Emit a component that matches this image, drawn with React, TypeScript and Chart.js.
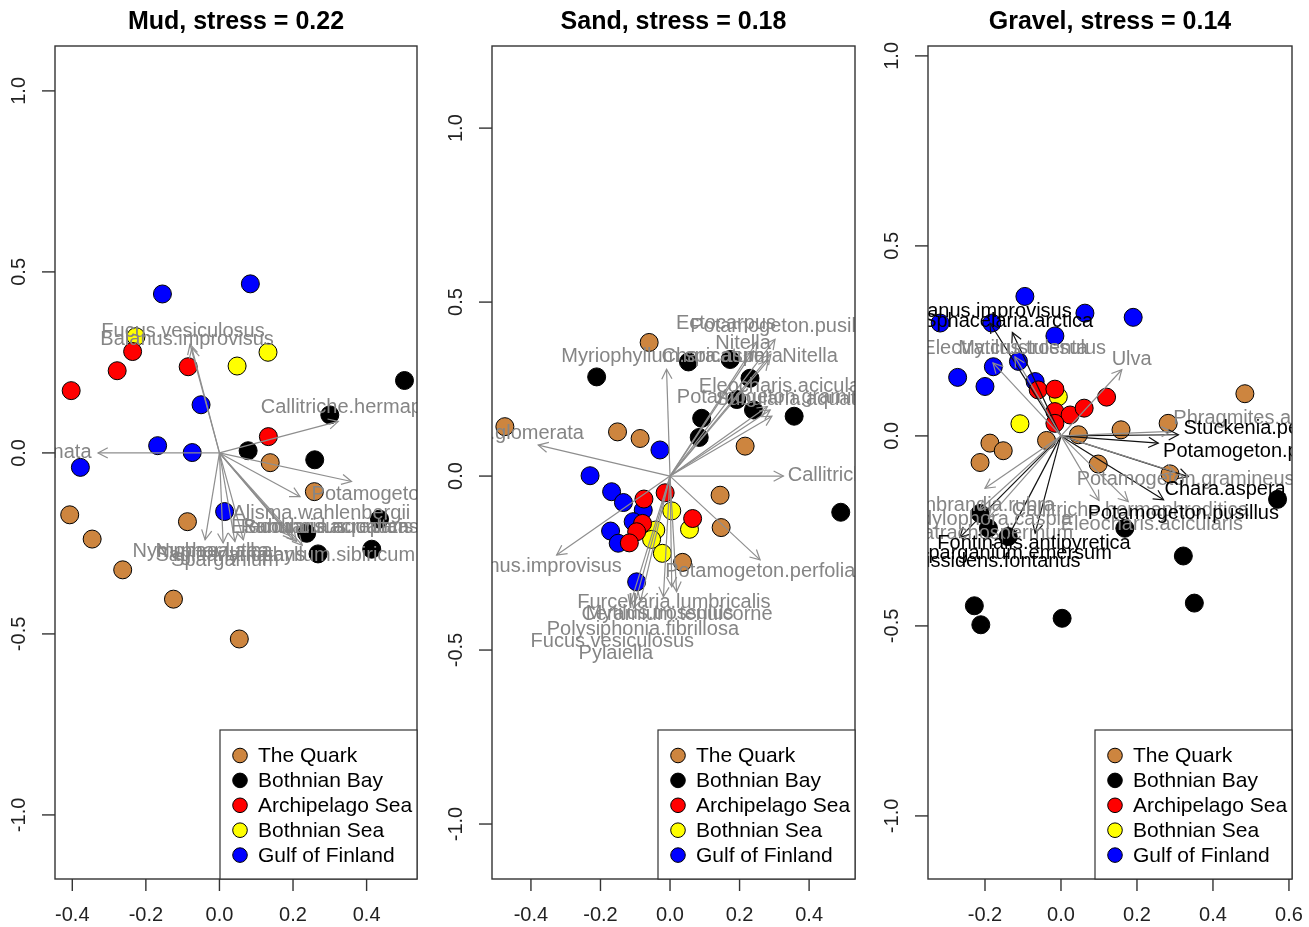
import React, { useEffect, useRef } from "react";
import { Chart, registerables } from "chart.js";

Chart.register(...registerables);

const FONT = '"Liberation Sans", Arial, Helvetica, sans-serif';

type Pt = [number, number];
type Arrow = [string, number, number, number, number]; // name, tipX, tipY, labelX, labelY

const regionNames = ["The Quark", "Bothnian Bay", "Archipelago Sea", "Bothnian Sea", "Gulf of Finland"];
const regionFills = ["#CD853F", "#000000", "#FF0000", "#FFFF00", "#0000FF"];

const xTicksMud = [-0.4, -0.2, 0, 0.2, 0.4];
const xTicksSand = [-0.4, -0.2, 0, 0.2, 0.4];
const xTicksGravel = [-0.2, 0, 0.2, 0.4, 0.6];
const yTicks = [-1, -0.5, 0, 0.5, 1];

// ---------- Mud ----------
const mudQuark: Pt[] = [[0.138, -0.027], [0.258, -0.107], [-0.407, -0.171], [-0.087, -0.19], [-0.346, -0.238], [-0.263, -0.323], [-0.125, -0.404], [0.054, -0.514]];
const mudBay: Pt[] = [[0.503, 0.2], [0.3, 0.105], [0.078, 0.006], [0.259, -0.019], [0.435, -0.183], [0.237, -0.222], [0.268, -0.279], [0.414, -0.266]];
const mudArch: Pt[] = [[-0.236, 0.28], [-0.278, 0.227], [-0.403, 0.172], [-0.085, 0.238], [0.133, 0.045]];
const mudSea: Pt[] = [[-0.227, 0.321], [0.132, 0.278], [0.048, 0.24]];
const mudGulf: Pt[] = [[-0.155, 0.439], [0.084, 0.467], [-0.05, 0.133], [-0.168, 0.02], [-0.074, 0.001], [-0.378, -0.04], [0.014, -0.162]];
const mudArrows: Arrow[] = [
  ["Fucus.vesiculosus", -0.08, 0.3, -0.099, 0.336],
  ["Balanus.improvisus", -0.075, 0.29, -0.088, 0.312],
  ["Stuckenia.pectinata", -0.33, 0.0, -0.585, 0.0],
  ["Callitriche.hermaphroditica", 0.323, 0.087, 0.434, 0.125],
  ["Potamogeton.perfoliatus", 0.359, -0.079, 0.545, -0.116],
  ["Alisma.wahlenbergii", 0.219, -0.121, 0.277, -0.167],
  ["Eleocharis.acicularis", 0.2, -0.24, 0.279, -0.206],
  ["Subularia.aquatica", 0.19, -0.228, 0.29, -0.206],
  ["Ranunculus.reptans", 0.21, -0.245, 0.3, -0.206],
  ["Myriophyllum.sibiricum", 0.225, -0.255, 0.257, -0.282],
  ["Nymphaea.alba", -0.039, -0.24, -0.046, -0.271],
  ["Nuphar.lutea", 0.01, -0.249, -0.02, -0.271],
  ["Sparganium", 0.042, -0.245, 0.015, -0.296],
  ["Sagittaria.natans", 0.065, -0.24, 0.03, -0.283],
];

// ---------- Sand ----------
const sandQuark: Pt[] = [[-0.06, 0.384], [-0.475, 0.142], [-0.151, 0.127], [-0.086, 0.108], [0.216, 0.086], [0.144, -0.055], [0.147, -0.148], [0.036, -0.248]];
const sandBay: Pt[] = [[-0.211, 0.285], [0.053, 0.328], [0.173, 0.335], [0.23, 0.281], [0.192, 0.22], [0.24, 0.19], [0.091, 0.166], [0.084, 0.111], [0.357, 0.172], [0.491, -0.104]];
const sandArch: Pt[] = [[-0.075, -0.066], [-0.014, -0.048], [0.065, -0.122], [-0.079, -0.136], [-0.096, -0.16], [-0.117, -0.192]];
const sandSea: Pt[] = [[0.005, -0.1], [0.056, -0.153], [-0.041, -0.155], [-0.053, -0.182], [-0.022, -0.222]];
const sandGulf: Pt[] = [[-0.029, 0.075], [-0.23, 0.001], [-0.168, -0.045], [-0.134, -0.076], [-0.077, -0.098], [-0.106, -0.131], [-0.171, -0.158], [-0.149, -0.193], [-0.096, -0.304]];
const sandArrows: Arrow[] = [
  ["Myriophyllum.spicatum", -0.01, 0.307, -0.02, 0.345],
  ["Cladophora.glomerata", -0.379, 0.089, -0.532, 0.121],
  ["Balanus.improvisus", -0.326, -0.227, -0.388, -0.261],
  ["Callitriche.hermaphroditica", 0.326, 0.0, 0.679, 0.003],
  ["Potamogeton.perfoliatus", 0.259, -0.241, 0.298, -0.275],
  ["Furcellaria.lumbricalis", 0.005, -0.318, 0.011, -0.363],
  ["Ceramium.tenuicorne", 0.019, -0.332, 0.02, -0.397],
  ["Mytilus.trossulus", -0.019, -0.347, -0.03, -0.395],
  ["Polysiphonia.fibrillosa", -0.085, -0.36, -0.078, -0.441],
  ["Fucus.vesiculosus", -0.115, -0.37, -0.166, -0.476],
  ["Pylaiella", -0.105, -0.38, -0.156, -0.51],
  ["Ectocarpus", 0.25, 0.386, 0.161, 0.439],
  ["Potamogeton.pusillus", 0.302, 0.393, 0.333, 0.431],
  ["Nitella", 0.24, 0.36, 0.21, 0.381],
  ["Chara.aspera", 0.283, 0.333, 0.15, 0.343],
  ["Nitella", 0.29, 0.35, 0.403, 0.343],
  ["Eleocharis.acicularis", 0.288, 0.19, 0.345, 0.257],
  ["Potamogeton.gramineus", 0.293, 0.172, 0.333, 0.226],
  ["Subularia.aquatica", 0.28, 0.2, 0.37, 0.22],
];

// ---------- Gravel ----------
const gravelQuark: Pt[] = [[0.484, 0.111], [0.282, 0.033], [0.158, 0.016], [0.046, 0.003], [-0.038, -0.012], [-0.187, -0.019], [-0.152, -0.039], [-0.213, -0.07], [0.098, -0.074], [0.287, -0.1]];
const gravelBay: Pt[] = [[0.57, -0.167], [-0.213, -0.204], [-0.191, -0.243], [-0.139, -0.265], [0.168, -0.243], [0.322, -0.316], [0.351, -0.44], [-0.228, -0.447], [-0.211, -0.497], [0.003, -0.48]];
const gravelArch: Pt[] = [[-0.06, 0.121], [-0.016, 0.123], [0.12, 0.102], [-0.016, 0.064], [0.024, 0.055], [0.061, 0.073], [-0.016, 0.033]];
const gravelSea: Pt[] = [[-0.007, 0.103], [-0.108, 0.032]];
const gravelGulf: Pt[] = [[-0.095, 0.367], [0.063, 0.323], [0.19, 0.312], [-0.318, 0.297], [-0.182, 0.297], [-0.016, 0.263], [-0.112, 0.196], [-0.178, 0.182], [-0.272, 0.154], [-0.2, 0.13], [-0.068, 0.143]];
const gravelGrayArrows: Arrow[] = [
  ["Mytilus.trossulus", -0.121, 0.208, -0.076, 0.231],
  ["Electra.crustulenta", -0.179, 0.192, -0.147, 0.231],
  ["Ulva", 0.16, 0.174, 0.186, 0.2],
  ["Phragmites.australis", 0.29, 0.012, 0.534, 0.047],
  ["Potamogeton.gramineus", 0.3, -0.095, 0.328, -0.116],
  ["Hildenbrandia.rubra", -0.2, -0.138, -0.247, -0.182],
  ["Cordylophora.caspia", -0.215, -0.195, -0.212, -0.221],
  ["Batrachospermum", -0.19, -0.215, -0.183, -0.256],
  ["Callitriche.hermaphroditica", 0.1, -0.17, 0.182, -0.195],
  ["Eleocharis.acicularis", 0.177, -0.173, 0.239, -0.234],
];
const gravelBlackArrows: Arrow[] = [
  ["Balanus.improvisus", -0.187, 0.297, -0.2, 0.327],
  ["Sphacelaria.arctica", -0.128, 0.272, -0.139, 0.301],
  ["Stuckenia.pectinata", 0.309, 0.003, 0.552, 0.02],
  ["Potamogeton.perfoliatus", 0.256, -0.019, 0.554, -0.041],
  ["Chara.aspera", 0.335, -0.107, 0.432, -0.142],
  ["Potamogeton.pusillus", 0.27, -0.168, 0.322, -0.203],
  ["Fontinalis.antipyretica", -0.139, -0.265, -0.071, -0.282],
  ["Sparganium.emersum", -0.068, -0.256, -0.125, -0.309],
  ["Fissidens.fontanus", -0.266, -0.267, -0.168, -0.331],
];

type Spec = {
  key: string;
  title: string;
  xMin: number; xMax: number; yMin: number; yMax: number;
  xTicks: number[];
  groups: Pt[][];
  gray: Arrow[];
  black: Arrow[];
};

const specs: Spec[] = [
  { key: "mud", title: "Mud, stress = 0.22", xMin: -0.447, xMax: 0.537, yMin: -1.177, yMax: 1.124, xTicks: xTicksMud,
    groups: [mudQuark, mudBay, mudArch, mudSea, mudGulf], gray: mudArrows, black: [] },
  { key: "sand", title: "Sand, stress = 0.18", xMin: -0.512, xMax: 0.532, yMin: -1.158, yMax: 1.236, xTicks: xTicksSand,
    groups: [sandQuark, sandBay, sandArch, sandSea, sandGulf], gray: sandArrows, black: [] },
  { key: "gravel", title: "Gravel, stress = 0.14", xMin: -0.35, xMax: 0.608, yMin: -1.166, yMax: 1.026, xTicks: xTicksGravel,
    groups: [gravelQuark, gravelBay, gravelArch, gravelSea, gravelGulf], gray: gravelGrayArrows, black: gravelBlackArrows },
];

const GRAY_LINE = "#8e8e8e";
const GRAY_TEXT = "#858585";

function makeOverlay(spec: Spec) {
  return {
    id: "overlay-" + spec.key,
    afterDatasetsDraw(chart: any) {
      const { ctx, chartArea: a, scales } = chart;
      const X = (v: number) => scales.x.getPixelForValue(v);
      const Y = (v: number) => scales.y.getPixelForValue(v);
      const w = a.right - a.left;
      const h = a.bottom - a.top;

      ctx.save();
      ctx.beginPath();
      ctx.rect(a.left, a.top, w, h);
      ctx.clip();

      const heads = (list: Arrow[], color: string) => {
        ctx.strokeStyle = color;
        ctx.lineWidth = 1.2;
        list.forEach(([, tx, ty]) => {
          const x0 = X(0), y0 = Y(0), x1 = X(tx), y1 = Y(ty);
          const ang = Math.atan2(y1 - y0, x1 - x0);
          const L = 11, sp = Math.PI / 6.5;
          ctx.beginPath();
          ctx.moveTo(x1 - L * Math.cos(ang - sp), y1 - L * Math.sin(ang - sp));
          ctx.lineTo(x1, y1);
          ctx.lineTo(x1 - L * Math.cos(ang + sp), y1 - L * Math.sin(ang + sp));
          ctx.stroke();
        });
      };
      heads(spec.gray, GRAY_LINE);
      heads(spec.black, "#111");

      ctx.font = `20px ${FONT}`;
      ctx.textAlign = "center";
      ctx.textBaseline = "middle";
      ctx.fillStyle = GRAY_TEXT;
      spec.gray.forEach(([name, , , lx, ly]) => ctx.fillText(name, X(lx), Y(ly)));
      ctx.fillStyle = "#000";
      spec.black.forEach(([name, , , lx, ly]) => ctx.fillText(name, X(lx), Y(ly)));
      ctx.restore();

      // box
      ctx.save();
      ctx.strokeStyle = "#333";
      ctx.lineWidth = 1.4;
      ctx.strokeRect(a.left, a.top, w, h);

      // ticks and tick labels
      ctx.fillStyle = "#222";
      ctx.font = `20px ${FONT}`;
      ctx.textAlign = "center";
      ctx.textBaseline = "middle";
      spec.xTicks.forEach((v) => {
        const px = X(v);
        ctx.beginPath();
        ctx.moveTo(px, a.bottom);
        ctx.lineTo(px, a.bottom + 12);
        ctx.stroke();
        ctx.fillText(v.toFixed(1), px, a.bottom + 36);
      });
      yTicks.forEach((v) => {
        const py = Y(v);
        ctx.beginPath();
        ctx.moveTo(a.left, py);
        ctx.lineTo(a.left - 13, py);
        ctx.stroke();
        ctx.save();
        ctx.translate(a.left - 36, py);
        ctx.rotate(-Math.PI / 2);
        ctx.fillText(v.toFixed(1), 0, 0);
        ctx.restore();
      });

      // title
      ctx.fillStyle = "#000";
      ctx.font = `bold 25px ${FONT}`;
      ctx.fillText(spec.title, (a.left + a.right) / 2, 22);

      // legend
      const lw = 197;
      const lx = a.right - lw;
      const ly = a.bottom - 149;
      ctx.fillStyle = "#fff";
      ctx.fillRect(lx, ly, lw, a.bottom - ly);
      ctx.strokeStyle = "#333";
      ctx.lineWidth = 1.2;
      ctx.strokeRect(lx, ly, lw, a.bottom - ly);
      ctx.font = `21px ${FONT}`;
      ctx.textAlign = "left";
      regionNames.forEach((name, i) => {
        const ry = a.bottom - 123.5 + i * 24.9;
        ctx.beginPath();
        ctx.arc(lx + 20, ry, 7.3, 0, Math.PI * 2);
        ctx.fillStyle = regionFills[i];
        ctx.fill();
        ctx.strokeStyle = "#000";
        ctx.lineWidth = 1;
        ctx.stroke();
        ctx.fillStyle = "#000";
        ctx.fillText(name, lx + 38, ry + 1);
      });
      ctx.restore();
    },
  };
}

function Panel({ spec, left, width, pad }: { spec: Spec; left: number; width: number; pad: { left: number; right: number; top: number; bottom: number } }) {
  const ref = useRef<HTMLCanvasElement>(null);
  useEffect(() => {
    const pointSets = spec.groups.map((g, i) => ({
      label: regionNames[i],
      data: g.map(([x, y]) => ({ x, y })),
      backgroundColor: regionFills[i],
      borderColor: "#000",
      borderWidth: 1,
      pointRadius: 9,
      pointHoverRadius: 9,
      showLine: false,
      order: 2,
    }));
    const arrowSet = (list: Arrow[], color: string) =>
      list.map(([name, tx, ty]) => ({
        label: name,
        data: [{ x: 0, y: 0 }, { x: tx, y: ty }],
        showLine: true,
        borderColor: color,
        borderWidth: 1.2,
        pointRadius: 0,
        pointHoverRadius: 0,
        fill: false,
        order: 1,
      }));
    const chart = new Chart(ref.current as HTMLCanvasElement, {
      type: "scatter",
      data: { datasets: [...pointSets, ...arrowSet(spec.gray, GRAY_LINE), ...arrowSet(spec.black, "#111")] as any },
      options: {
        responsive: false,
        maintainAspectRatio: false,
        animation: false,
        events: [],
        layout: { padding: pad },
        scales: {
          x: { type: "linear", display: false, min: spec.xMin, max: spec.xMax },
          y: { type: "linear", display: false, min: spec.yMin, max: spec.yMax },
        },
        plugins: { legend: { display: false }, tooltip: { enabled: false }, title: { display: false } },
      },
      plugins: [makeOverlay(spec)],
    });
    return () => chart.destroy();
  }, []);
  return (
    <canvas
      ref={ref}
      width={width}
      height={927}
      style={{ position: "absolute", left, top: 0, width, height: 927 }}
    />
  );
}

export default function App() {
  return (
    <div style={{ position: "absolute", left: 0, top: 0, width: 1309, height: 927, background: "#fff", overflow: "hidden" }}>
      <Panel spec={specs[0]} left={0} width={440} pad={{ left: 55, right: 23, top: 46, bottom: 48 }} />
      <Panel spec={specs[1]} left={440} width={435} pad={{ left: 52, right: 20, top: 46, bottom: 48 }} />
      <Panel spec={specs[2]} left={875} width={434} pad={{ left: 53, right: 17, top: 46, bottom: 48 }} />
    </div>
  );
}
